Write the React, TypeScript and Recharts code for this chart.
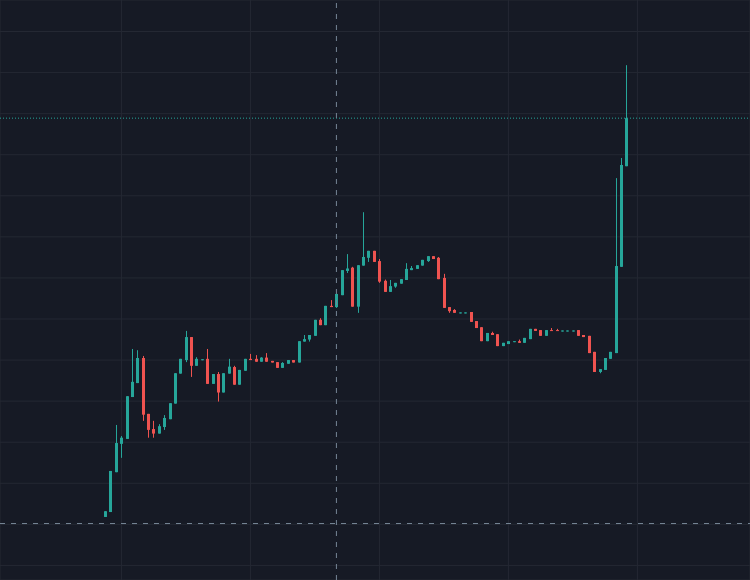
import React from 'react';
import { ComposedChart, Bar, XAxis, YAxis, CartesianGrid, ReferenceLine } from 'recharts';

const COLORS = {
  background: '#161a25',
  grid: '#242833',
  up: '#26a69a',
  down: '#ef5350',
  crosshair: '#758696',
};

// hourly candles
const opens = [
  11.8, 13.0, 22.7, 29.6, 30.8, 41.0, 44.4, 50.5, 36.9, 33.2,
  32.1, 33.7, 35.6, 39.4, 46.7, 50.0, 55.6, 48.6, 50.2, 50.3,
  44.2, 46.6, 42.1, 46.7, 48.3, 44.0, 47.4, 50.3, 50.3, 49.6,
  50.6, 49.8, 49.5, 48.1, 49.1, 50.0, 49.4, 54.5, 55.0, 55.9,
  59.8, 58.5, 63.2, 62.9, 65.8, 71.7, 72.5, 63.0, 73.0, 74.9,
  76.6, 74.1, 69.3, 66.6, 67.9, 68.6, 69.5, 71.9, 72.2, 73.0,
  74.1, 75.3, 74.9, 70.0, 62.9, 62.2, 61.6, 61.6, 61.7, 59.5,
  58.0, 54.6, 56.6, 56.3, 53.4, 53.9, 54.6, 54.6, 54.2, 55.1,
  57.6, 57.3, 55.9, 57.3, 57.3, 57.2, 57.2, 57.2, 57.3, 56.1,
  55.9, 52.0, 47.1, 47.6, 50.3, 51.7, 72.7, 97.2,
];

const closes = [
  13.2, 23.0, 29.8, 31.1, 41.2, 44.7, 50.5, 36.7, 33.0, 32.1,
  33.9, 35.9, 39.5, 46.8, 50.3, 55.6, 48.6, 50.3, 50.2, 44.2,
  46.6, 42.1, 46.8, 48.4, 44.0, 47.6, 50.3, 50.0, 49.6, 50.6,
  49.6, 49.4, 48.1, 49.3, 50.0, 49.4, 54.6, 55.1, 56.1, 59.8,
  58.5, 63.2, 62.9, 66.1, 71.9, 72.3, 63.0, 73.1, 75.1, 76.6,
  73.9, 69.1, 66.6, 68.0, 68.8, 69.7, 72.2, 72.4, 73.1, 74.4,
  75.3, 74.6, 69.7, 62.7, 61.9, 61.5, 61.6, 61.6, 59.3, 57.8,
  54.6, 56.6, 56.1, 53.4, 54.2, 54.6, 54.6, 54.2, 55.4, 57.6,
  57.1, 55.9, 57.3, 57.1, 57.1, 57.2, 57.2, 57.2, 55.9, 55.6,
  51.7, 47.1, 47.8, 50.5, 52.0, 72.9, 97.5, 108.9,
];

const highs = [
  13.2, 23.0, 34.2, 31.5, 41.2, 52.7, 52.4, 51.0, 36.9, 35.2,
  34.4, 36.6, 39.5, 46.8, 50.3, 57.1, 55.6, 50.7, 50.2, 52.7,
  46.6, 47.1, 46.8, 50.3, 48.6, 47.6, 50.3, 51.5, 51.2, 50.7,
  51.7, 49.8, 49.5, 49.5, 50.0, 50.0, 54.6, 56.1, 56.1, 59.8,
  60.2, 63.2, 64.6, 66.1, 71.9, 75.8, 72.7, 73.1, 86.0, 76.6,
  76.6, 74.6, 69.6, 69.5, 68.8, 69.7, 73.6, 72.9, 73.1, 74.4,
  75.3, 75.3, 75.1, 71.0, 62.9, 62.4, 61.6, 61.6, 61.7, 59.5,
  58.0, 56.6, 56.9, 56.3, 54.2, 54.6, 54.6, 55.0, 55.4, 57.6,
  57.6, 57.3, 57.3, 57.8, 57.6, 57.2, 57.2, 57.2, 57.3, 56.1,
  55.9, 52.0, 47.8, 50.5, 52.0, 94.3, 99.2, 121.8,
];

const lows = [
  11.8, 13.0, 22.7, 26.2, 30.8, 41.0, 44.4, 35.2, 31.1, 31.1,
  32.1, 33.0, 35.6, 39.4, 46.7, 49.5, 45.9, 48.6, 50.2, 44.2,
  44.2, 39.9, 42.1, 46.7, 44.0, 44.0, 47.4, 50.0, 49.6, 49.6,
  49.6, 49.4, 48.1, 48.1, 49.1, 49.4, 49.4, 54.5, 54.5, 55.9,
  58.5, 58.5, 62.9, 62.7, 65.8, 71.2, 63.0, 61.5, 73.0, 73.9,
  73.9, 68.8, 66.6, 66.6, 67.6, 68.6, 69.5, 71.9, 72.2, 73.0,
  73.9, 74.6, 69.7, 62.7, 61.5, 61.5, 61.6, 61.6, 59.3, 57.8,
  54.6, 54.6, 56.1, 53.4, 53.4, 53.9, 54.6, 54.2, 54.2, 55.1,
  57.1, 55.9, 55.9, 57.1, 57.1, 57.2, 57.2, 57.2, 55.9, 55.6,
  51.7, 47.1, 46.8, 47.6, 50.3, 51.7, 72.7, 97.2,
];

const timeTicks = [3, 27, 51, 75, 99];
const priceTicks = [0, 10, 20, 30, 40, 50, 60, 70, 80, 90, 100, 110, 120, 130];
const crosshairIndex = 43;
const crosshairPrice = 10.2;
const lastPrice = closes[closes.length - 1];

const chartData = opens.map((open, i) => ({
  idx: i,
  open,
  close: closes[i],
  high: highs[i],
  low: lows[i],
  range: [lows[i], highs[i]],
}));

function Candle(props: any) {
  const { x, y, width, height, payload } = props;
  if (x == null || y == null || !payload) return null;
  const { open, close, high, low } = payload;
  const color = close >= open ? COLORS.up : COLORS.down;
  const span = high - low;
  const ratio = span > 0 ? height / span : 0;
  const yOf = (v: number) => y + (high - v) * ratio;
  const cx = Math.round(x + width / 2);
  const top = yOf(Math.max(open, close));
  const bottom = yOf(Math.min(open, close));
  const bodyH = Math.max(1, bottom - top);
  return (
    <g>
      <rect x={cx} y={y} width={1} height={Math.max(1, height)} fill={color} />
      <rect x={cx - 1} y={top} width={3} height={bodyH} fill={color} />
    </g>
  );
}

export default function App() {
  return (
    <div style={{ position: 'absolute', left: 0, top: 0, width: 750, height: 580, background: COLORS.background }}>
      <style>{'body{margin:0;background:' + COLORS.background + ';}'}</style>
      <ComposedChart
        width={750}
        height={580}
        data={chartData}
        margin={{ top: 0, right: 0, bottom: 0, left: 0 }}
      >
        <CartesianGrid stroke={COLORS.grid} strokeWidth={1} />
        <XAxis
          dataKey="idx"
          type="number"
          domain={[-19.59, 119.95]}
          ticks={timeTicks}
          allowDataOverflow
          hide
        />
        <YAxis
          type="number"
          domain={[-3.55, 137.67]}
          ticks={priceTicks}
          allowDataOverflow
          hide
        />
        <ReferenceLine y={lastPrice} stroke={COLORS.up} strokeDasharray="1 2" />
        <Bar
          dataKey="range"
          barSize={3}
          shape={<Candle />}
          isAnimationActive={false}
        />
        <ReferenceLine x={crosshairIndex} stroke={COLORS.crosshair} strokeDasharray="5 6" />
        <ReferenceLine y={crosshairPrice} stroke={COLORS.crosshair} strokeDasharray="5 6" />
      </ComposedChart>
    </div>
  );
}
